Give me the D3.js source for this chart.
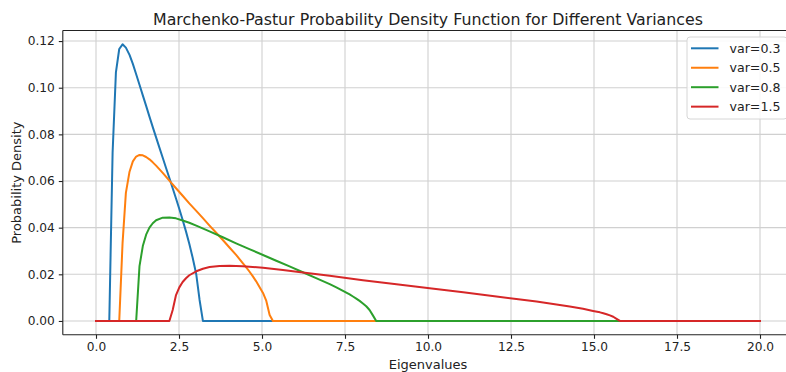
<!DOCTYPE html>
<html>
<head>
<meta charset="utf-8">
<script src="https://cdn.jsdelivr.net/npm/d3@7"></script>
<style>
  html, body { margin: 0; padding: 0; background: #ffffff; }
  svg { display: block; font-family: "DejaVu Sans", sans-serif; }
</style>
</head>
<body>
<svg id="chart" width="786" height="372"></svg>
<script>
// ---------- data ----------
const seriesNames = ["var=0.3", "var=0.5", "var=0.8", "var=1.5"];
const seriesColors = ["#1f77b4", "#ff7f0e", "#2ca02c", "#d62728"];

const eig03 = [0, 0.40, 0.50, 0.60, 0.70, 0.80, 0.90, 1.01, 1.11, 1.21, 1.31, 1.41, 1.51, 1.61, 1.71, 1.81, 1.91, 2.01, 2.11, 2.21, 2.31, 2.41, 2.51, 2.61, 2.71, 2.81, 2.91, 3.02, 3.12, 3.22, 20];
const pdf03 = [0, 0, 0.0721, 0.1066, 0.1166, 0.1186, 0.1172, 0.1141, 0.1102, 0.1058, 0.1013, 0.0967, 0.0922, 0.0876, 0.0831, 0.0787, 0.0743, 0.0700, 0.0656, 0.0613, 0.0569, 0.0525, 0.0480, 0.0433, 0.0384, 0.0331, 0.0272, 0.0200, 0.0090, 0, 0];

const eig05 = [0, 0.70, 0.80, 0.90, 1.01, 1.11, 1.21, 1.31, 1.41, 1.51, 1.61, 1.71, 1.81, 2.01, 2.21, 2.41, 2.61, 2.81, 3.02, 3.22, 3.42, 3.62, 3.82, 4.02, 4.22, 4.42, 4.52, 4.62, 4.72, 4.82, 4.92, 5.03, 5.13, 5.23, 5.33, 20];
const pdf05 = [0, 0, 0.0334, 0.0549, 0.0640, 0.0684, 0.0705, 0.0712, 0.0710, 0.0703, 0.0693, 0.0680, 0.0666, 0.0635, 0.0602, 0.0569, 0.0537, 0.0504, 0.0472, 0.0441, 0.0409, 0.0378, 0.0347, 0.0315, 0.0283, 0.0248, 0.0231, 0.0212, 0.0192, 0.0171, 0.0147, 0.0120, 0.0086, 0.0026, 0, 0];

const eig08 = [0, 1.21, 1.31, 1.41, 1.51, 1.61, 1.71, 1.81, 2.01, 2.21, 2.41, 2.61, 2.81, 3.02, 3.42, 3.82, 4.22, 4.62, 5.03, 5.43, 5.83, 6.23, 6.63, 7.04, 7.24, 7.44, 7.64, 7.74, 7.84, 7.94, 8.04, 8.14, 8.24, 8.34, 8.44, 20];
const pdf08 = [0, 0, 0.0235, 0.0321, 0.0370, 0.0400, 0.0419, 0.0432, 0.0443, 0.0444, 0.0440, 0.0431, 0.0421, 0.0409, 0.0384, 0.0359, 0.0333, 0.0308, 0.0283, 0.0258, 0.0234, 0.0209, 0.0184, 0.0158, 0.0144, 0.0129, 0.0114, 0.0105, 0.0096, 0.0086, 0.0075, 0.0063, 0.0047, 0.0024, 0, 0];

const eig15 = [0, 2.21, 2.31, 2.41, 2.51, 2.61, 2.71, 2.81, 3.02, 3.22, 3.42, 3.72, 4.02, 4.42, 5.03, 5.63, 6.23, 7.04, 8.04, 9.05, 10.05, 11.06, 12.06, 12.66, 13.27, 13.87, 14.27, 14.67, 14.97, 15.18, 15.28, 15.38, 15.48, 15.58, 15.68, 15.78, 20];
const pdf15 = [0, 0, 0.0047, 0.0111, 0.0144, 0.0167, 0.0183, 0.0196, 0.0213, 0.0224, 0.0231, 0.0236, 0.0237, 0.0235, 0.0228, 0.0219, 0.0208, 0.0194, 0.0175, 0.0157, 0.0140, 0.0123, 0.0105, 0.0094, 0.0083, 0.0071, 0.0062, 0.0052, 0.0043, 0.0037, 0.0033, 0.0029, 0.0024, 0.0018, 0.0009, 0, 0];

const xTicks = [0, 2.5, 5, 7.5, 10, 12.5, 15, 17.5, 20];
const xTickLabels = ["0.0", "2.5", "5.0", "7.5", "10.0", "12.5", "15.0", "17.5", "20.0"];
const yTicks = [0, 0.02, 0.04, 0.06, 0.08, 0.10, 0.12];
const yTickLabels = ["0.00", "0.02", "0.04", "0.06", "0.08", "0.10", "0.12"];

const titleText = "Marchenko-Pastur Probability Density Function for Different Variances";
const xLabelText = "Eigenvalues";
const yLabelText = "Probability Density";

// ---------- layout ----------
const svg = d3.select("#chart");
const pLeft = 62.8, pRight = 793.2, pTop = 30.5, pBottom = 334.8;

const x = d3.scaleLinear().domain([-1, 21]).range([pLeft, pRight]);
const y = d3.scaleLinear().domain([-0.00593, 0.12453]).range([pBottom, pTop]);

const series = [
  { name: seriesNames[0], color: seriesColors[0], xs: eig03, ys: pdf03 },
  { name: seriesNames[1], color: seriesColors[1], xs: eig05, ys: pdf05 },
  { name: seriesNames[2], color: seriesColors[2], xs: eig08, ys: pdf08 },
  { name: seriesNames[3], color: seriesColors[3], xs: eig15, ys: pdf15 }
];

// grid
const grid = svg.append("g");
grid.selectAll("line.gx").data(xTicks).join("line")
  .attr("x1", d => x(d)).attr("x2", d => x(d))
  .attr("y1", pTop).attr("y2", pBottom)
  .attr("stroke", "#d0d0d0").attr("stroke-width", 1.1);
grid.selectAll("line.gy").data(yTicks).join("line")
  .attr("x1", pLeft).attr("x2", pRight)
  .attr("y1", d => y(d)).attr("y2", d => y(d))
  .attr("stroke", "#d0d0d0").attr("stroke-width", 1.1);

// lines
const line = d3.line().x(d => x(d[0])).y(d => y(d[1]));
svg.append("g").selectAll("path").data(series).join("path")
  .attr("d", s => line(s.xs.map((v, i) => [v, s.ys[i]])))
  .attr("fill", "none")
  .attr("stroke", s => s.color)
  .attr("stroke-width", 2)
  .attr("stroke-linejoin", "round")
  .attr("stroke-linecap", "square");

// axes
const tickFont = 12.2;
const xAxis = d3.axisBottom(x).tickValues(xTicks).tickFormat((d, i) => xTickLabels[i]).tickSizeInner(4).tickSizeOuter(0).tickPadding(4);
const yAxis = d3.axisLeft(y).tickValues(yTicks).tickFormat((d, i) => yTickLabels[i]).tickSizeInner(4).tickSizeOuter(0).tickPadding(4);

const gx = svg.append("g").attr("transform", `translate(0,${pBottom})`).call(xAxis);
const gy = svg.append("g").attr("transform", `translate(${pLeft},0)`).call(yAxis);
[gx, gy].forEach(g => {
  g.select(".domain").remove();
  g.selectAll(".tick line").attr("stroke", "#222").attr("stroke-width", 1.1);
  g.selectAll(".tick text").attr("fill", "#222").style("font-size", tickFont + "px").style("font-family", "DejaVu Sans");
});

// spines
const spine = svg.append("g").attr("stroke", "#222").attr("stroke-width", 1.1).attr("fill", "none");
spine.append("line").attr("x1", pLeft).attr("x2", pLeft).attr("y1", pTop).attr("y2", pBottom);
spine.append("line").attr("x1", pLeft).attr("x2", pRight).attr("y1", pBottom).attr("y2", pBottom);
spine.append("line").attr("x1", pLeft).attr("x2", pRight).attr("y1", pTop).attr("y2", pTop);
spine.append("line").attr("x1", pRight).attr("x2", pRight).attr("y1", pTop).attr("y2", pBottom);

// title & labels
const cx = (pLeft + pRight) / 2;
svg.append("text").attr("x", cx).attr("y", 25).attr("text-anchor", "middle")
  .style("font-size", "15.8px").attr("fill", "#222").text(titleText);
svg.append("text").attr("x", cx).attr("y", 368.5).attr("text-anchor", "middle")
  .style("font-size", "13px").attr("fill", "#222").text(xLabelText);
svg.append("text").attr("transform", `translate(20.5,${(pTop + pBottom) / 2}) rotate(-90)`)
  .attr("text-anchor", "middle").style("font-size", "13px").attr("fill", "#222").text(yLabelText);

// legend
const lg = svg.append("g");
lg.append("rect").attr("x", 687).attr("y", 37).attr("width", 100).attr("height", 82)
  .attr("rx", 3).attr("fill", "#ffffff").attr("fill-opacity", 0.85)
  .attr("stroke", "#d6d6d6").attr("stroke-width", 1);
const rows = lg.selectAll("g.row").data(series).join("g")
  .attr("transform", (d, i) => `translate(0,${48.3 + i * 19.45})`);
rows.append("line").attr("x1", 691).attr("x2", 718.5).attr("y1", 0).attr("y2", 0)
  .attr("stroke", d => d.color).attr("stroke-width", 2);
rows.append("text").attr("x", 729.5).attr("y", 4.5)
  .style("font-size", "12.6px").attr("fill", "#222").text(d => d.name);
</script>
</body>
</html>
